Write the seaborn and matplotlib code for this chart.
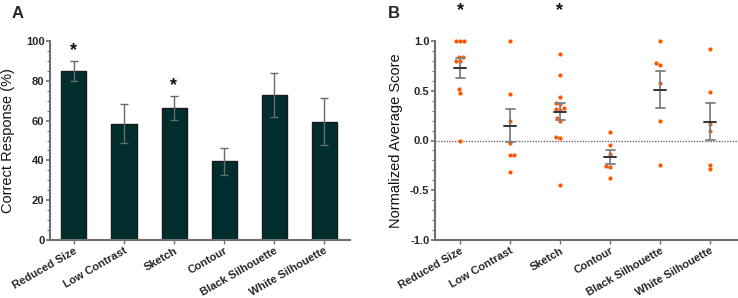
import matplotlib
matplotlib.use("Agg")
import matplotlib.pyplot as plt
import seaborn as sns
import numpy as np
import pandas as pd
from matplotlib.ticker import MultipleLocator

sns.set_theme(style="white")
plt.rcParams['font.family'] = ['Liberation Sans', 'DejaVu Sans']

categories = ["Reduced Size", "Low Contrast", "Sketch", "Contour",
              "Black Silhouette", "White Silhouette"]

# Panel A: correct response (%) with error bars
pct_mean = [85, 58.5, 66.5, 39.5, 73, 59.5]
pct_err = [5, 10, 6, 6.8, 11, 12]
sig_a = [True, False, True, False, False, False]

# Panel B: individual normalized scores
scores_reduced = [1.0, 1.0, 1.0, 0.84, 0.84, 0.80, 0.80, 0.52, 0.48, 0.0]
scores_lowcon = [1.0, 0.47, 0.20, -0.03, -0.15, -0.15, -0.32]
scores_sketch = [0.87, 0.66, 0.44, 0.38, 0.37, 0.33, 0.32, 0.31, 0.23, 0.20,
                 0.04, 0.03, -0.45]
scores_contour = [0.09, -0.05, -0.14, -0.26, -0.27, -0.38]
scores_black = [1.0, 0.78, 0.76, 0.58, 0.20, -0.245]
scores_white = [0.92, 0.49, 0.17, 0.10, -0.245, -0.29]
score_mean = [0.73, 0.15, 0.29, -0.17, 0.51, 0.19]
score_sem = [0.10, 0.17, 0.085, 0.07, 0.185, 0.185]
sig_b = [True, False, True, False, False, False]

all_scores = [scores_reduced, scores_lowcon, scores_sketch, scores_contour,
              scores_black, scores_white]
df_b = pd.DataFrame({
    "cat": [c for c, s in zip(categories, all_scores) for _ in s],
    "score": [v for s in all_scores for v in s],
})
df_a = pd.DataFrame({"cat": categories, "pct": pct_mean})

W, H = 738, 298
fig = plt.figure(figsize=(W / 100, H / 100), dpi=100)
axA = fig.add_axes([50 / W, 58 / H, 300 / W, 199 / H])
axB = fig.add_axes([435 / W, 58 / H, 302 / W, 199 / H])

axis_col = "#707070"
bar_col = "#002e2e"

# ---------- Panel A ----------
sns.barplot(data=df_a, x="cat", y="pct", ax=axA, color=bar_col, width=0.5,
            edgecolor="#1a1a1a", linewidth=1.0, errorbar=None, saturation=1)
x = np.arange(len(categories))
axA.errorbar(x, pct_mean, yerr=pct_err, fmt="none", ecolor="#6a6a6a",
             elinewidth=1.0, capsize=3, capthick=1.0)
for xi, m, e, s in zip(x, pct_mean, pct_err, sig_a):
    if s:
        axA.text(xi, m + e + 1, "*", ha="center", va="bottom",
                 fontsize=13, fontweight="bold", color="#111111")
axA.set_ylim(0, 100)
axA.set_xlim(-0.48, 5.52)
axA.yaxis.set_major_locator(MultipleLocator(20))
axA.yaxis.set_minor_locator(MultipleLocator(5))
axA.set_ylabel("Correct Response (%)", fontsize=10.5, color="#111111", labelpad=8)
axA.set_xlabel("")

# ---------- Panel B ----------
axB.axhline(0, color="#6a6a6a", linestyle=(0, (1.0, 1.0)), linewidth=1.0, zorder=1)
sns.swarmplot(data=df_b, x="cat", y="score", ax=axB, order=categories,
              color="#ff5500", size=3.0, linewidth=0, zorder=3)
for coll in axB.collections:
    coll.set_clip_on(False)
for xi, m, e, s in zip(x, score_mean, score_sem, sig_b):
    axB.plot([xi, xi], [m - e, m + e], color="#808080", lw=1.3, zorder=4)
    axB.plot([xi - 0.09, xi + 0.09], [m + e, m + e], color="#808080", lw=1.3, zorder=4)
    axB.plot([xi - 0.09, xi + 0.09], [m - e, m - e], color="#808080", lw=1.3, zorder=4)
    axB.plot([xi - 0.12, xi + 0.12], [m, m], color="#333333", lw=1.4, zorder=5)
    if s:
        axB.text(xi, 1.22, "*", ha="center", va="bottom", fontsize=13,
                 fontweight="bold", color="#111111", clip_on=False)
axB.set_ylim(-1.0, 1.0)
axB.set_xlim(-0.5, 5.54)
axB.yaxis.set_major_locator(MultipleLocator(0.5))
axB.yaxis.set_minor_locator(MultipleLocator(0.1))
axB.yaxis.set_major_formatter(matplotlib.ticker.FormatStrFormatter("%.1f"))
axB.set_ylabel("Normalized Average Score", fontsize=10.5, color="#111111", labelpad=5)
axB.set_xlabel("")

for ax in (axA, axB):
    for side in ("top", "right"):
        ax.spines[side].set_visible(False)
    for side in ("left", "bottom"):
        ax.spines[side].set_color(axis_col)
        ax.spines[side].set_linewidth(1.5)
    ax.tick_params(axis="y", which="major", length=3, width=1.2, color=axis_col,
                   left=True, labelsize=8, pad=1)
    ax.tick_params(axis="y", which="minor", length=2, width=0.8, color=axis_col, left=True)
    ax.tick_params(axis="x", which="major", length=3, width=1.0, color=axis_col,
                   bottom=True, labelsize=8, pad=1)
    for lbl in ax.get_yticklabels():
        lbl.set_fontweight("bold")
    ax.set_xticks(x)
    ax.set_xticklabels(categories, rotation=30, ha="right", rotation_mode="anchor",
                       fontweight="bold", fontsize=8)
    ax.grid(False)

fig.text(12 / W, 1 - 14 / H, "A", fontsize=12, fontweight="bold", va="center", ha="left")
fig.text(388 / W, 1 - 14 / H, "B", fontsize=12, fontweight="bold", va="center", ha="left")

fig.savefig("out.png", dpi=100)
